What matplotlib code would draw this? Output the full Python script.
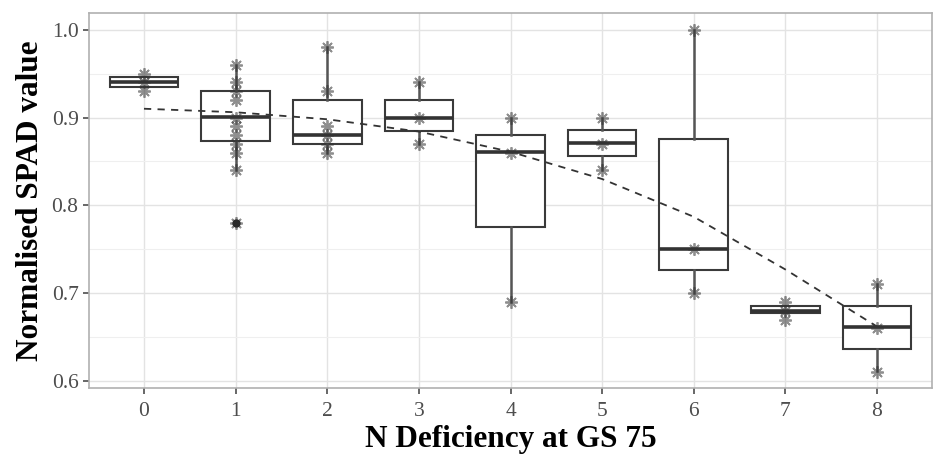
# Boxplot of normalised SPAD values per N deficiency level, with fitted trend

import numpy as np
import matplotlib.pyplot as plt

levels = [0, 1, 2, 3, 4, 5, 6, 7, 8]
q1 = [0.935, 0.873, 0.870, 0.885, 0.775, 0.856, 0.726, 0.677, 0.636]
medians = [0.940, 0.901, 0.880, 0.900, 0.861, 0.871, 0.750, 0.680, 0.661]
q3 = [0.946, 0.930, 0.920, 0.920, 0.880, 0.886, 0.876, 0.685, 0.686]
whislo = [0.935, 0.840, 0.860, 0.870, 0.690, 0.840, 0.700, 0.677, 0.611]
whishi = [0.946, 0.960, 0.980, 0.940, 0.900, 0.900, 1.000, 0.685, 0.711]
outliers = [[], [0.78], [], [], [], [], [], [], []]

points = [
    [0.95, 0.94, 0.93],
    [0.96, 0.94, 0.93, 0.92, 0.90, 0.89, 0.88, 0.87, 0.86, 0.84, 0.78],
    [0.98, 0.93, 0.89, 0.88, 0.87, 0.86],
    [0.94, 0.90, 0.87],
    [0.90, 0.86, 0.69],
    [0.90, 0.87, 0.84],
    [1.00, 0.75, 0.70],
    [0.69, 0.68, 0.67],
    [0.71, 0.66, 0.61],
]

# dashed trend line
trend = [0.910, 0.906, 0.898, 0.884, 0.861, 0.830, 0.787, 0.727, 0.662]

plt.rcParams['font.family'] = ['Liberation Serif', 'DejaVu Serif']

fig = plt.figure(figsize=(9.38, 4.62), dpi=100)
ax = fig.add_axes([0.0949, 0.160, 0.8987, 0.8119])

# grid (theme_bw look)
ax.set_axisbelow(True)
ax.set_yticks([0.65, 0.75, 0.85, 0.95], minor=True)
ax.grid(True, which='major', color='#e3e3e3', lw=1.0)
ax.grid(True, which='minor', axis='y', color='#efefef', lw=0.8)

stats = []
for i in range(len(levels)):
    stats.append({'q1': q1[i], 'med': medians[i], 'q3': q3[i],
                  'whislo': whislo[i], 'whishi': whishi[i],
                  'fliers': outliers[i]})

ax.bxp(stats, positions=levels, widths=0.75, patch_artist=True,
       showcaps=False,
       boxprops=dict(facecolor='white', edgecolor='#3a3a3a', lw=1.5),
       medianprops=dict(color='#333333', lw=2.6),
       whiskerprops=dict(color='#555555', lw=1.8),
       flierprops=dict(marker='o', markerfacecolor='#222222',
                       markeredgecolor='#222222', markersize=5))

# asterisk points on the box centre line
for x, vals in zip(levels, points):
    ax.plot([x] * len(vals), vals, ls='none', marker=(8, 2, 0),
            markersize=9, mew=1.3, color='#333333', alpha=0.55, zorder=4)

ax.plot(levels, trend, ls=(0, (4, 3.5)), color='#333333', lw=1.3, zorder=5)

ax.set_xlim(-0.6, 8.6)
ax.set_ylim(0.592, 1.019)
ax.set_xticks(levels)
ax.set_yticks([0.6, 0.7, 0.8, 0.9, 1.0])
ax.set_yticklabels(['0.6', '0.7', '0.8', '0.9', '1.0'])
ax.tick_params(axis='both', which='major', labelsize=15.5, colors='#4d4d4d',
               length=4, width=1.2)
ax.tick_params(axis='x', which='major', pad=6)
ax.tick_params(axis='both', which='minor', length=0)

for s in ax.spines.values():
    s.set_color('#b0b0b0')
    s.set_linewidth(1.2)

ax.set_xlabel('N Deficiency at GS 75', fontsize=22.5, fontweight='bold', labelpad=3)
ax.set_ylabel('Normalised SPAD value', fontsize=22.5, fontweight='bold', labelpad=5)

fig.savefig('out.png', dpi=100)
